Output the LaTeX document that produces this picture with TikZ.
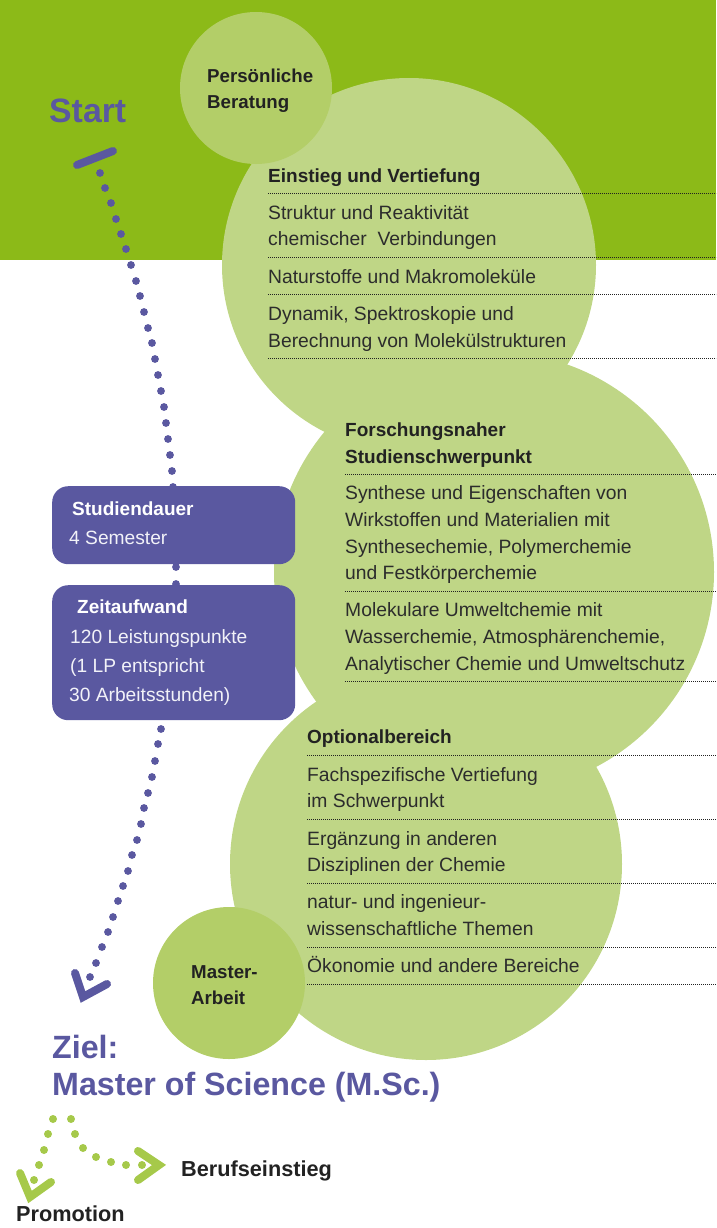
\documentclass[tikz,border=0pt]{standalone}
\usepackage{fontspec}
\setmainfont{Liberation Sans}
\definecolor{band}{HTML}{8CBA18}
\definecolor{bubble}{HTML}{BFD686}
\definecolor{bubbledark}{HTML}{B3CE68}
\definecolor{violet}{HTML}{5A58A0}
\definecolor{leaf}{HTML}{A6C94A}
\definecolor{ink}{HTML}{222222}
\definecolor{bodyink}{HTML}{2C2C2C}
\definecolor{boxtext}{HTML}{F2F2F8}
\begin{document}
\begin{tikzpicture}[x=1pt,y=-1pt,
  body/.style={font=\fontsize{19.3}{23}\selectfont, text=bodyink, inner sep=0pt, anchor=base west},
  head/.style={font=\fontsize{19}{23}\selectfont\bfseries, text=ink, inner sep=0pt, anchor=base west},
  boxbody/.style={font=\fontsize{19.2}{23}\selectfont, text=boxtext, inner sep=0pt, anchor=base west},
  boxhead/.style={font=\fontsize{19}{23}\selectfont\bfseries, text=white, inner sep=0pt, anchor=base west},
  big/.style={font=\fontsize{33}{38}\selectfont\bfseries, text=violet, inner sep=0pt, anchor=base west},
  exitlabel/.style={font=\fontsize{21.7}{26}\selectfont\bfseries, text=ink, inner sep=0pt, anchor=base west},
  bubblenode/.style={circle, fill=bubble, draw=none, inner sep=0pt},
  smallbubble/.style={circle, fill=bubbledark, draw=none, inner sep=0pt, minimum size=152pt},
  infobox/.style={rectangle, fill=violet, draw=none, rounded corners=16pt, inner sep=0pt, anchor=north west, minimum width=243pt},
  sepline/.style={draw=ink, line width=0.8pt, dash pattern=on 0.9pt off 1.1pt},
  chevron/.style={line width=8pt, line cap=round, line join=miter}
]
\useasboundingbox (0,0) rectangle (716,1228);
% background band
\fill[band] (0,0) rectangle (716,260);
% big bubbles
\node[bubblenode, minimum size=374pt] (c1) at (409,265) {};
\node[bubblenode, minimum size=440pt] (c2) at (494,572) {};
\node[bubblenode, minimum size=392pt] (c3) at (426,864) {};
% small bubbles
\node[smallbubble] (pb) at (256,88) {};
\node[smallbubble] (ma) at (229,983) {};
% purple dotted path
\foreach \px/\py in {100/173,105/188,111/203,116/219,121/234,126/249,131/265,136/281,140/296,144/312,148/328,152/343,155/359,158/375,161/391,164/407,166/423,168/439,170/455,172/471,173/487,176/567,176/584,175/600,161/729,158/744,155/761,152/777,148/793,144/808,141/824,137/840,132/855,128/871,123/886,118/901,113/917,108/932,102/947,96/963,90/977}
  \fill[violet] (\px,\py) circle[radius=3.9pt];
\coordinate (s1) at (77,165);
\coordinate (s2) at (113,151);
\draw[violet, line width=8pt, line cap=round] (s1) -- (s2);
\coordinate (pa1) at (75,973);
\coordinate (pa2) at (83,997);
\coordinate (pa3) at (107,984);
\draw[violet, chevron] (pa1) -- (pa2) -- (pa3);
% info boxes
\node[infobox, minimum height=78pt] (sd) at (52,486) {};
\node[infobox, minimum height=135pt] (za) at (52,585) {};
% green dotted arrows
\foreach \px/\py in {34/1180,39/1165,44/1150,48/1134,53/1119,71/1119,75/1134,83/1148,96/1157,111/1162,126/1165,142/1165}
  \fill[leaf] (\px,\py) circle[radius=4pt];
\coordinate (ga1) at (138,1151);
\coordinate (ga2) at (159,1165);
\coordinate (ga3) at (138,1180);
\draw[leaf, chevron] (ga1) -- (ga2) -- (ga3);
\coordinate (gb1) at (20,1173);
\coordinate (gb2) at (30,1197);
\coordinate (gb3) at (51,1182);
\draw[leaf, chevron] (gb1) -- (gb2) -- (gb3);
% separator lines
\foreach \ly in {193,257,294,358} \draw[sepline] (268,\ly) -- (716,\ly);
\foreach \ly in {474,591,681} \draw[sepline] (345,\ly) -- (716,\ly);
\foreach \ly in {755,819,883,947,984} \draw[sepline] (307,\ly) -- (716,\ly);
% texts: bubble 1
\node[head] (h1) at (268,182) {Einstieg und Vertiefung};
\node[body] (t11) at (268,219) {Struktur und Reaktivität};
\node[body] (t12) at (268,245) {chemischer~ Verbindungen};
\node[body] (t13) at (268,283) {Naturstoffe und Makromoleküle};
\node[body] (t14) at (268,320) {Dynamik, Spektroskopie und};
\node[body] (t15) at (268,347) {Berechnung von Molekülstrukturen};
% bubble 2
\node[head] (h2a) at (345,436) {Forschungsnaher};
\node[head] (h2b) at (345,463) {Studienschwerpunkt};
\node[body] (t21) at (345,499) {Synthese und Eigenschaften von};
\node[body] (t22) at (345,526) {Wirkstoffen und Materialien mit};
\node[body] (t23) at (345,553) {Synthesechemie, Polymerchemie};
\node[body] (t24) at (345,579) {und Festkörperchemie};
\node[body] (t25) at (345,616) {Molekulare Umweltchemie mit};
\node[body] (t26) at (345,643) {Wasserchemie, Atmosphärenchemie,};
\node[body] (t27) at (345,670) {Analytischer Chemie und Umweltschutz};
% bubble 3
\node[head] (h3) at (307,743) {Optionalbereich};
\node[body] (t31) at (307,781) {Fachspezifische Vertiefung};
\node[body] (t32) at (307,807) {im Schwerpunkt};
\node[body] (t33) at (307,845) {Ergänzung in anderen};
\node[body] (t34) at (307,871) {Disziplinen der Chemie};
\node[body] (t35) at (307,908) {natur- und ingenieur-};
\node[body] (t36) at (307,935) {wissenschaftliche Themen};
\node[body] (t37) at (307,972) {Ökonomie und andere Bereiche};
% small bubbles text
\node[head, font=\fontsize{18.7}{23}\selectfont\bfseries] (pb1) at (207,83) {Persönliche};
\node[head, font=\fontsize{18.7}{23}\selectfont\bfseries] (pb2) at (207,109) {Beratung};
\node[head, font=\fontsize{18.7}{23}\selectfont\bfseries] (ma1) at (191,978) {Master-};
\node[head, font=\fontsize{18.7}{23}\selectfont\bfseries] (ma2) at (191,1004) {Arbeit};
% box texts
\node[boxhead] (sd1) at (72,515) {Studiendauer};
\node[boxbody] (sd2) at (69,544) {4 Semester};
\node[boxhead] (za1) at (77,613) {Zeitaufwand};
\node[boxbody] (za2) at (70,643) {120 Leistungspunkte};
\node[boxbody] (za3) at (70,672) {(1 LP entspricht};
\node[boxbody] (za4) at (69,701) {30 Arbeitsstunden)};
% headline texts
\node[big, font=\fontsize{33.8}{38}\selectfont\bfseries] (start) at (49,123) {Start};
\node[big, font=\fontsize{32.2}{38}\selectfont\bfseries] (ziel1) at (52,1058) {Ziel:};
\node[big, font=\fontsize{32.2}{38}\selectfont\bfseries] (ziel2) at (52,1095) {Master of Science (M.Sc.)};
\node[exitlabel] (beruf) at (181,1176) {Berufseinstieg};
\node[exitlabel] (promo) at (16,1221) {Promotion};
\end{tikzpicture}
\end{document}
